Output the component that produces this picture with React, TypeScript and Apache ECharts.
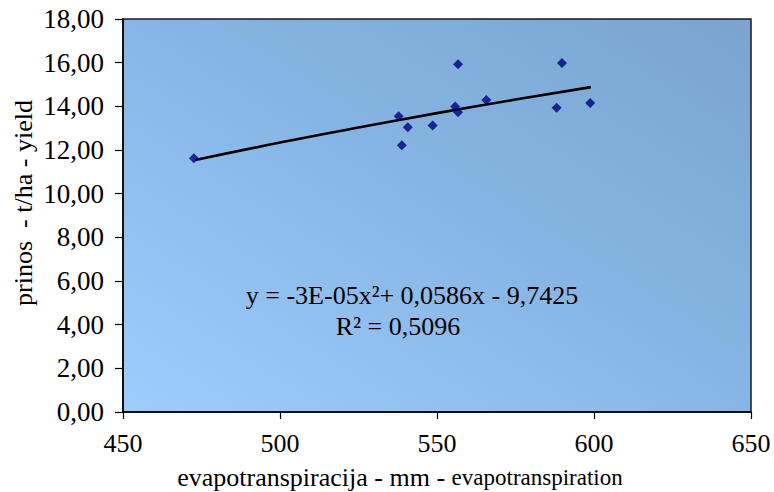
import React, { useEffect, useRef } from "react";
import * as echarts from "echarts";

// Observed points: evapotranspiration (mm) vs yield (t/ha)
const etValues = [472.6, 537.8, 538.8, 540.7, 548.6, 555.8, 556.7, 556.7, 565.7, 588.1, 589.8, 598.8];
const yieldValues = [11.62, 13.55, 12.22, 13.04, 13.12, 13.99, 13.73, 15.93, 14.29, 13.93, 15.99, 14.15];

// Polynomial trend line
const trendX = [473, 500, 525, 550, 575, 599];
const trendY = [11.54, 12.34, 13.03, 13.69, 14.31, 14.88];

const xTicks = { min: 450, max: 650, interval: 50 };
const yTicks = { min: 0, max: 18, interval: 2 };

const xTitleMain = "evapotranspiracija - mm - ";
const xTitleSub = "evapotranspiration";
const yTitle = "prinos  - t/ha - yield";
const equationLine1 = "y = -3E-05x²+ 0,0586x - 9,7425";
const equationLine2 = "R² = 0,5096";

const FONT = "'Liberation Serif', 'Times New Roman', serif";

export default function App() {
  const ref = useRef<HTMLDivElement>(null);

  useEffect(() => {
    document.body.style.margin = "0";
    if (!ref.current) return;
    const chart = echarts.init(ref.current, null, { renderer: "svg" });
    const scatterData = etValues.map((x, i) => [x, yieldValues[i]]);
    const trendData = trendX.map((x, i) => [x, trendY[i]]);

    chart.setOption({
      animation: false,
      textStyle: { fontFamily: FONT, color: "#000" },
      grid: {
        left: 123,
        right: 23,
        top: 19,
        bottom: 80,
        containLabel: false,
        outerBoundsMode: "none",
        show: true,
        borderColor: "#1a1a1a",
        borderWidth: 1.5,
        backgroundColor: new echarts.graphic.LinearGradient(0, 1, 1, 0, [
          { offset: 0, color: "#9dcdfc" },
          { offset: 0.55, color: "#86b4e2" },
          { offset: 1, color: "#7aa4d0" },
        ]),
      },
      xAxis: {
        type: "value",
        min: xTicks.min,
        max: xTicks.max,
        interval: xTicks.interval,
        splitLine: { show: false },
        axisLine: { show: true, lineStyle: { color: "#000", width: 1.5 } },
        axisTick: { show: true, inside: false, length: 7, lineStyle: { color: "#000", width: 1.2 } },
        axisLabel: { color: "#000", fontSize: 26, fontFamily: FONT, margin: 18 },
      },
      yAxis: {
        type: "value",
        min: yTicks.min,
        max: yTicks.max,
        interval: yTicks.interval,
        splitLine: { show: false },
        axisLine: { show: true, lineStyle: { color: "#000", width: 1.5 } },
        axisTick: { show: true, inside: false, length: 8, lineStyle: { color: "#000", width: 1.2 } },
        axisLabel: {
          color: "#000",
          fontSize: 27,
          fontFamily: FONT,
          margin: 19,
          formatter: (v: number) => v.toFixed(2).replace(".", ","),
        },
      },
      series: [
        {
          type: "line",
          data: trendData,
          smooth: true,
          showSymbol: false,
          symbol: "none",
          lineStyle: { color: "#000", width: 2.6 },
          z: 2,
        },
        {
          type: "scatter",
          data: scatterData,
          symbol: "diamond",
          symbolSize: 10,
          itemStyle: { color: "#000080" },
          z: 3,
        },
      ],
      graphic: [
        {
          type: "text",
          x: 400,
          y: 477,
          style: {
            text: `{a|${xTitleMain}}{b|${xTitleSub}}`,
            fill: "#000",
            align: "center",
            verticalAlign: "middle",
            rich: {
              a: { fontSize: 26, fontFamily: FONT, fill: "#000" },
              b: { fontSize: 23, fontFamily: FONT, fill: "#000" },
            },
          },
        },
        {
          type: "text",
          x: 23,
          y: 203,
          rotation: Math.PI / 2,
          style: {
            text: yTitle,
            font: `26px ${FONT}`,
            fill: "#000",
            align: "center",
            verticalAlign: "middle",
          },
        },
        {
          type: "text",
          x: 412,
          y: 295,
          style: {
            text: equationLine1,
            font: `26px ${FONT}`,
            fill: "#000",
            align: "center",
            verticalAlign: "middle",
          },
        },
        {
          type: "text",
          x: 398,
          y: 326,
          style: {
            text: equationLine2,
            font: `26px ${FONT}`,
            fill: "#000",
            align: "center",
            verticalAlign: "middle",
          },
        },
      ],
    });

    return () => chart.dispose();
  }, []);

  return <div ref={ref} style={{ width: 774, height: 492 }} />;
}
